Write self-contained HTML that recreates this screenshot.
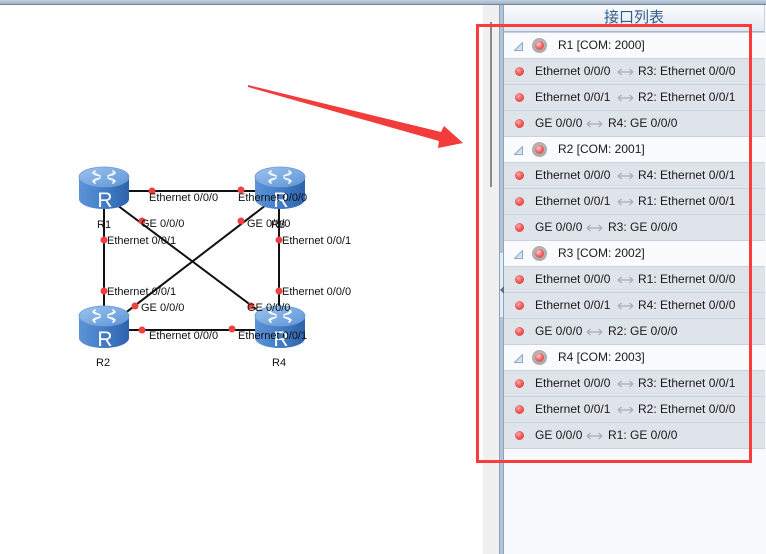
<!DOCTYPE html>
<html><head><meta charset="utf-8">
<style>
*{margin:0;padding:0;box-sizing:border-box}
html,body{width:766px;height:554px;overflow:hidden;background:#fff;font-family:"Liberation Sans","Noto Sans CJK SC",sans-serif}
.abs{position:absolute}
#topband{left:0;top:0;width:766px;height:5px;background:linear-gradient(#c3d0de,#9fb2c7);border-bottom:1px solid #71859c}
#strip{left:483px;top:5px;width:16px;height:549px;background:#f0f0f0}
#thumb{left:490px;top:22px;width:2px;height:165px;background:#8a8a8a}
#split{left:499px;top:5px;width:5px;height:549px;background:#b3c4d6;border-left:1px solid #8ea3ba;border-right:1px solid #8ea3ba}
#handle{left:500px;top:253px;width:3px;height:64px;background:#e4ecf4}
#panel{left:504px;top:5px;width:262px;height:549px;background:#f7f9fc}
#hdr{left:504px;top:5px;width:261px;height:27px;background:linear-gradient(#fbfcfe,#e2e9f2);border-bottom:1px solid #a3b5c9;border-right:1px solid #c8d4e0;text-align:center;font-size:15px;line-height:25px;color:#2f5d8c;font-family:"Liberation Sans","Noto Sans CJK SC",sans-serif}
.row{position:absolute;left:504px;width:261px;height:26px;border-top:1px solid #c9d3df;font-size:12px;color:#1a1a1a;line-height:25px}
.g{background:#f9fbfd}
.i{background:#dfe3ea}
.row span{position:absolute;top:0;white-space:nowrap}
.dot{position:absolute;left:11px;top:8px;width:9px;height:9px;border-radius:50%;background:radial-gradient(circle at 40% 35%,#ffb0b0 0,#f05a5a 45%,#d83a3a 100%)}
.led{position:absolute;left:28px;top:5px;width:15px;height:15px;border-radius:50%;background:radial-gradient(circle at 50% 45%,#c8c8c8 0,#a8a8a8 70%,#909090 100%)}
.led:after{content:"";position:absolute;left:3px;top:3px;width:9px;height:9px;border-radius:50%;background:radial-gradient(circle at 40% 35%,#ffd0d0 0,#f06060 50%,#d63c3c 100%)}
.tri{position:absolute;left:10px;top:9px}
.arr{position:absolute;top:9px}
#redbox{left:476px;top:24px;width:276px;height:439px;border:3px solid #fc3b3b}
</style></head><body>
<div id="topband" class="abs"></div>

<svg class="abs" style="left:0;top:5px" width="483" height="549" viewBox="0 5 483 549">
<defs>
<linearGradient id="body" x1="0" x2="1" y1="0" y2="0">
<stop offset="0" stop-color="#5d93d6"/><stop offset="0.35" stop-color="#4a84cc"/><stop offset="1" stop-color="#2d63ad"/>
</linearGradient>
<linearGradient id="top" x1="0" x2="1" y1="0" y2="1">
<stop offset="0" stop-color="#9cc4ef"/><stop offset="1" stop-color="#5e95d6"/>
</linearGradient>
<g id="rt">
<path d="M0,10 L0,32 A25,10 0 0 0 50,32 L50,10 Z" fill="url(#body)"/>
<ellipse cx="25" cy="10" rx="25" ry="10" fill="url(#top)" stroke="#6c9ad2" stroke-width="0.8"/>
<g stroke="#fff" stroke-width="1.6" fill="none" stroke-linecap="round">
<path d="M14,6 L21,9 M14,6 L16,4 M14,6 L17,8"/>
<path d="M36,6 L29,9 M36,6 L34,4 M36,6 L33,8"/>
<path d="M14,14 L21,11 M14,14 L16,16 M14,14 L17,12"/>
<path d="M36,14 L29,11 M36,14 L34,16 M36,14 L33,12"/>
</g>
<text x="26" y="40" text-anchor="middle" font-family="Liberation Sans" font-size="21" fill="#fff">R</text>
</g>
</defs>
<g stroke="#111" stroke-width="2">
<line x1="110" y1="191" x2="275" y2="191"/>
<line x1="110" y1="330" x2="275" y2="330"/>
<line x1="104" y1="200" x2="104" y2="315"/>
<line x1="279" y1="200" x2="279" y2="315"/>
<line x1="117" y1="205" x2="256" y2="309"/>
<line x1="266" y1="205" x2="124" y2="314"/>
</g>
<use href="#rt" x="79" y="167"/>
<use href="#rt" x="255" y="167"/>
<use href="#rt" x="79" y="306"/>
<use href="#rt" x="255" y="306"/>
<g fill="#f04040">
<circle cx="152" cy="191" r="3.5"/><circle cx="241" cy="190" r="3.5"/>
<circle cx="142" cy="221" r="3.5"/><circle cx="241" cy="221" r="3.5"/>
<circle cx="104" cy="240" r="3.5"/><circle cx="279" cy="240" r="3.5"/>
<circle cx="104" cy="291" r="3.5"/><circle cx="279" cy="291" r="3.5"/>
<circle cx="135" cy="306" r="3.5"/><circle cx="251" cy="306" r="3.5"/>
<circle cx="142" cy="330" r="3.5"/><circle cx="232" cy="329" r="3.5"/>
</g>
<g font-family="Liberation Sans" font-size="11" fill="#111">
<text x="97" y="228">R1</text>
<text x="271" y="228">R3</text>
<text x="96" y="366">R2</text>
<text x="272" y="366">R4</text>
<text x="149" y="201">Ethernet 0/0/0</text>
<text x="238" y="201">Ethernet 0/0/0</text>
<text x="141" y="227">GE 0/0/0</text>
<text x="247" y="227">GE 0/0/0</text>
<text x="107" y="244">Ethernet 0/0/1</text>
<text x="282" y="244">Ethernet 0/0/1</text>
<text x="107" y="295">Ethernet 0/0/1</text>
<text x="282" y="295">Ethernet 0/0/0</text>
<text x="141" y="311">GE 0/0/0</text>
<text x="247" y="311">GE 0/0/0</text>
<text x="149" y="339">Ethernet 0/0/0</text>
<text x="238" y="339">Ethernet 0/0/1</text>
</g>
</svg>

<div id="strip" class="abs"></div>
<div id="thumb" class="abs"></div>
<div id="split" class="abs"></div>
<div id="handle" class="abs"></div>
<svg class="abs" style="left:499px;top:285px" width="6" height="10"><path d="M1,5 L5,1 L5,9 Z" fill="#5a6f88"/></svg>
<div id="panel" class="abs"></div>
<div id="hdr" class="abs">接口列表</div>

<!-- rows -->
<div class="row g" style="top:32px"><svg class="tri" width="9" height="9"><path d="M0.5,8.5 L8.5,0.5 L8.5,8.5 Z" fill="#d6e2ef" stroke="#8fa9c8"/></svg><div class="led"></div><span style="left:54px">R1 [COM: 2000]</span></div>
<div class="row i" style="top:58px"><div class="dot"></div><span style="left:31px">Ethernet 0/0/0</span><svg class="arr" style="left:113px" width="17" height="8"><path d="M1,4 H16 M1,4 L4.5,1 M1,4 L4.5,7 M16,4 L12.5,1 M16,4 L12.5,7" stroke="#a9afb6" stroke-width="1.3" fill="none"/></svg><span style="left:134px">R3: Ethernet 0/0/0</span></div>
<div class="row i" style="top:84px"><div class="dot"></div><span style="left:31px">Ethernet 0/0/1</span><svg class="arr" style="left:113px" width="17" height="8"><path d="M1,4 H16 M1,4 L4.5,1 M1,4 L4.5,7 M16,4 L12.5,1 M16,4 L12.5,7" stroke="#a9afb6" stroke-width="1.3" fill="none"/></svg><span style="left:134px">R2: Ethernet 0/0/1</span></div>
<div class="row i" style="top:110px"><div class="dot"></div><span style="left:31px">GE 0/0/0</span><svg class="arr" style="left:82px" width="17" height="8"><path d="M1,4 H16 M1,4 L4.5,1 M1,4 L4.5,7 M16,4 L12.5,1 M16,4 L12.5,7" stroke="#a9afb6" stroke-width="1.3" fill="none"/></svg><span style="left:104px">R4: GE 0/0/0</span></div>

<div class="row g" style="top:136px"><svg class="tri" width="9" height="9"><path d="M0.5,8.5 L8.5,0.5 L8.5,8.5 Z" fill="#d6e2ef" stroke="#8fa9c8"/></svg><div class="led"></div><span style="left:54px">R2 [COM: 2001]</span></div>
<div class="row i" style="top:162px"><div class="dot"></div><span style="left:31px">Ethernet 0/0/0</span><svg class="arr" style="left:113px" width="17" height="8"><path d="M1,4 H16 M1,4 L4.5,1 M1,4 L4.5,7 M16,4 L12.5,1 M16,4 L12.5,7" stroke="#a9afb6" stroke-width="1.3" fill="none"/></svg><span style="left:134px">R4: Ethernet 0/0/1</span></div>
<div class="row i" style="top:188px"><div class="dot"></div><span style="left:31px">Ethernet 0/0/1</span><svg class="arr" style="left:113px" width="17" height="8"><path d="M1,4 H16 M1,4 L4.5,1 M1,4 L4.5,7 M16,4 L12.5,1 M16,4 L12.5,7" stroke="#a9afb6" stroke-width="1.3" fill="none"/></svg><span style="left:134px">R1: Ethernet 0/0/1</span></div>
<div class="row i" style="top:214px"><div class="dot"></div><span style="left:31px">GE 0/0/0</span><svg class="arr" style="left:82px" width="17" height="8"><path d="M1,4 H16 M1,4 L4.5,1 M1,4 L4.5,7 M16,4 L12.5,1 M16,4 L12.5,7" stroke="#a9afb6" stroke-width="1.3" fill="none"/></svg><span style="left:104px">R3: GE 0/0/0</span></div>

<div class="row g" style="top:240px"><svg class="tri" width="9" height="9"><path d="M0.5,8.5 L8.5,0.5 L8.5,8.5 Z" fill="#d6e2ef" stroke="#8fa9c8"/></svg><div class="led"></div><span style="left:54px">R3 [COM: 2002]</span></div>
<div class="row i" style="top:266px"><div class="dot"></div><span style="left:31px">Ethernet 0/0/0</span><svg class="arr" style="left:113px" width="17" height="8"><path d="M1,4 H16 M1,4 L4.5,1 M1,4 L4.5,7 M16,4 L12.5,1 M16,4 L12.5,7" stroke="#a9afb6" stroke-width="1.3" fill="none"/></svg><span style="left:134px">R1: Ethernet 0/0/0</span></div>
<div class="row i" style="top:292px"><div class="dot"></div><span style="left:31px">Ethernet 0/0/1</span><svg class="arr" style="left:113px" width="17" height="8"><path d="M1,4 H16 M1,4 L4.5,1 M1,4 L4.5,7 M16,4 L12.5,1 M16,4 L12.5,7" stroke="#a9afb6" stroke-width="1.3" fill="none"/></svg><span style="left:134px">R4: Ethernet 0/0/0</span></div>
<div class="row i" style="top:318px"><div class="dot"></div><span style="left:31px">GE 0/0/0</span><svg class="arr" style="left:82px" width="17" height="8"><path d="M1,4 H16 M1,4 L4.5,1 M1,4 L4.5,7 M16,4 L12.5,1 M16,4 L12.5,7" stroke="#a9afb6" stroke-width="1.3" fill="none"/></svg><span style="left:104px">R2: GE 0/0/0</span></div>

<div class="row g" style="top:344px"><svg class="tri" width="9" height="9"><path d="M0.5,8.5 L8.5,0.5 L8.5,8.5 Z" fill="#d6e2ef" stroke="#8fa9c8"/></svg><div class="led"></div><span style="left:54px">R4 [COM: 2003]</span></div>
<div class="row i" style="top:370px"><div class="dot"></div><span style="left:31px">Ethernet 0/0/0</span><svg class="arr" style="left:113px" width="17" height="8"><path d="M1,4 H16 M1,4 L4.5,1 M1,4 L4.5,7 M16,4 L12.5,1 M16,4 L12.5,7" stroke="#a9afb6" stroke-width="1.3" fill="none"/></svg><span style="left:134px">R3: Ethernet 0/0/1</span></div>
<div class="row i" style="top:396px"><div class="dot"></div><span style="left:31px">Ethernet 0/0/1</span><svg class="arr" style="left:113px" width="17" height="8"><path d="M1,4 H16 M1,4 L4.5,1 M1,4 L4.5,7 M16,4 L12.5,1 M16,4 L12.5,7" stroke="#a9afb6" stroke-width="1.3" fill="none"/></svg><span style="left:134px">R2: Ethernet 0/0/0</span></div>
<div class="row i" style="top:422px;border-bottom:1px solid #c9d3df;height:27px"><div class="dot"></div><span style="left:31px">GE 0/0/0</span><svg class="arr" style="left:82px" width="17" height="8"><path d="M1,4 H16 M1,4 L4.5,1 M1,4 L4.5,7 M16,4 L12.5,1 M16,4 L12.5,7" stroke="#a9afb6" stroke-width="1.3" fill="none"/></svg><span style="left:104px">R1: GE 0/0/0</span></div>

<!-- annotations -->
<svg class="abs" style="left:0;top:0" width="766" height="554">
<polygon points="248,85 441,132 444,126 463,143 438,148 439,141 248,87" fill="#f23b3b"/>
</svg>
<div id="redbox" class="abs"></div>
</body></html>
